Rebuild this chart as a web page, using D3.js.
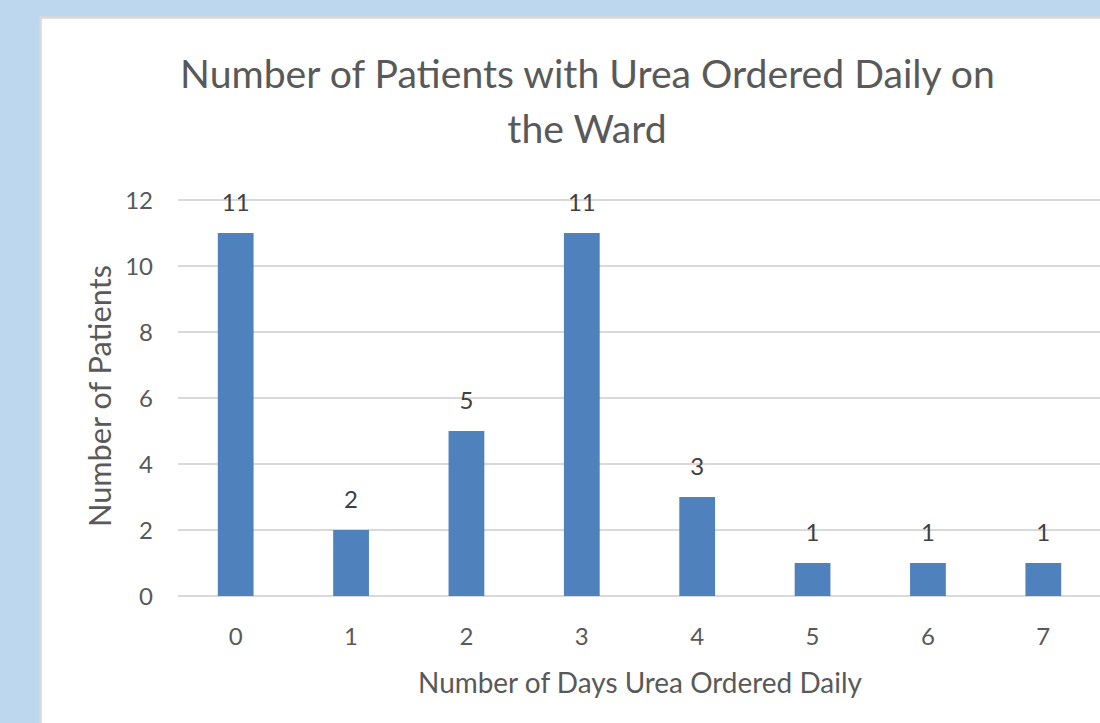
<!DOCTYPE html>
<html><head><meta charset="utf-8">
<script src="https://cdn.jsdelivr.net/npm/d3@7"></script>
<style>html,body{margin:0;padding:0;background:#bdd7ee;overflow:hidden}</style>
</head><body>
<svg id="chart" width="1100" height="723"></svg>
<script>
const categories = ["0","1","2","3","4","5","6","7"];
const patients = [11, 2, 5, 11, 3, 1, 1, 1];
const yTicks = [0, 2, 4, 6, 8, 10, 12];
const titleLines = ["Number of Patients with Urea Ordered Daily on", "the Ward"];
const xTitle = "Number of Days Urea Ordered Daily";
const yTitle = "Number of Patients";

const svg = d3.select("#chart");
const FONT = "Lato, 'Open Sans', sans-serif";

// panel
svg.append("rect").attr("x", 40.5).attr("y", 17.5).attr("width", 1100).attr("height", 800)
  .attr("fill", "#fff").attr("stroke", "#d9d9d9").attr("stroke-width", 2.5);

const plot = {left: 178, right: 1101, top: 200, bottom: 596};
const x = d3.scaleBand().domain(categories).range([plot.left, plot.right]).paddingInner(0.69).paddingOuter(0.345);
const y = d3.scaleLinear().domain([0, 12]).range([plot.bottom, plot.top]);

// gridlines
svg.append("g").selectAll("line").data(yTicks).join("line")
  .attr("x1", plot.left).attr("x2", 1100)
  .attr("y1", d => y(d)).attr("y2", d => y(d))
  .attr("stroke", "#d9d9d9").attr("stroke-width", 2);

// y axis labels
const yAxis = d3.axisLeft(y).tickValues(yTicks).tickSize(0).tickPadding(0);
const gy = svg.append("g").attr("transform", "translate(153,0)").call(yAxis);
gy.select(".domain").remove();
gy.selectAll("text").attr("font-family", FONT).attr("font-size", 24).attr("fill", "#595959").attr("dy", "0.35em");

// x axis labels
const xAxis = d3.axisBottom(x).tickSize(0).tickPadding(0);
const gx = svg.append("g").attr("transform", `translate(0,${plot.bottom})`).call(xAxis);
gx.select(".domain").remove();
gx.selectAll("text").attr("font-family", FONT).attr("font-size", 24).attr("fill", "#595959").attr("dy", null).attr("y", 49);

// bars
svg.append("g").selectAll("rect").data(patients).join("rect")
  .attr("x", (d, i) => x(categories[i]))
  .attr("width", x.bandwidth())
  .attr("y", d => y(d))
  .attr("height", d => y(0) - y(d))
  .attr("fill", "#4f81bd");

// data labels
svg.append("g").selectAll("text").data(patients).join("text")
  .attr("x", (d, i) => x(categories[i]) + x.bandwidth() / 2)
  .attr("y", d => y(d) - 22)
  .attr("text-anchor", "middle")
  .attr("font-family", FONT).attr("font-size", 24).attr("fill", "#404040")
  .text(d => d);

function fit(sel, target) {
  sel.attr("font-size", 100);
  const w = sel.node().getComputedTextLength();
  sel.attr("font-size", 100 * target / w);
}

// title
const t1 = svg.append("text").attr("x", 587.5).attr("y", 88).attr("text-anchor", "middle")
  .attr("font-family", FONT).attr("fill", "#595959").text(titleLines[0]);
fit(t1, 815);
const fs = +t1.attr("font-size");
svg.append("text").attr("x", 587).attr("y", 143).attr("text-anchor", "middle")
  .attr("font-family", FONT).attr("fill", "#595959").attr("font-size", fs).text(titleLines[1]);

// axis titles
const xt = svg.append("text").attr("x", 640).attr("y", 693).attr("text-anchor", "middle")
  .attr("font-family", FONT).attr("fill", "#595959").text(xTitle);
fit(xt, 444);
const yt = svg.append("text").attr("transform", "translate(111,396) rotate(-90)").attr("text-anchor", "middle")
  .attr("font-family", FONT).attr("fill", "#595959").text(yTitle);
fit(yt, 262);
</script>
</body></html>
